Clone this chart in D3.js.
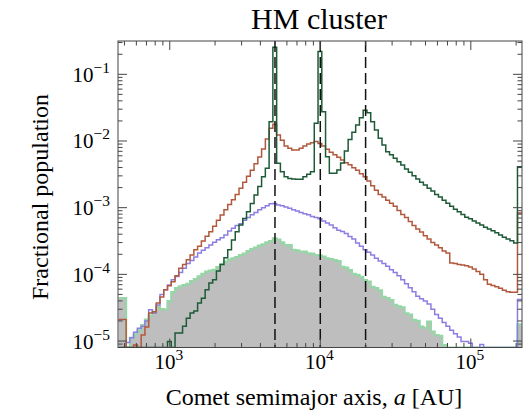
<!DOCTYPE html>
<html>
<head>
<meta charset="utf-8">
<script src="https://d3js.org/d3.v7.min.js"></script>
<style>
  body { margin: 0; background: #fff; }
  text { font-family: "Liberation Serif", "Times New Roman", serif; fill: #000; }
</style>
</head>
<body>
<svg width="532" height="413"></svg>
<script>
// log10(a) bins: 40 per decade, first bin starts at log10(a) = 2.66
var binStart = 2.66, binWidth = 0.025;

var darkGreen = [
  0,0,0,0,0,0,0,0,0,0,
  0,0,0,9.8e-6,0,1.32e-5,1.32e-5,1.66e-5,2.19e-5,2.63e-5,
  2.82e-5,3.72e-5,4.37e-5,5.89e-5,7.41e-5,8.32e-5,1.12e-4,1.41e-4,1.78e-4,2.34e-4,
  3.27e-4,4.37e-4,5.5e-4,6.9e-4,8.7e-4,1.16e-3,1.55e-3,2.07e-3,2.92e-3,3.89e-3,
  1.95e-2,0.254,4.62e-3,3.47e-3,2.92e-3,2.75e-3,2.69e-3,2.66e-3,2.66e-3,2.92e-3,
  3.16e-3,3.47e-3,1.84e-2,0.219,2.75e-2,5.82e-3,3.27e-3,3.27e-3,3.67e-3,4.68e-3,
  7.08e-3,1.05e-2,1.35e-2,1.74e-2,2.24e-2,2.88e-2,2.66e-2,1.95e-2,1.46e-2,1.10e-2,
  8.7e-3,6.9e-3,6.2e-3,5.5e-3,4.9e-3,4.37e-3,3.8e-3,3.39e-3,3.02e-3,2.69e-3,
  2.4e-3,2.19e-3,1.95e-3,1.78e-3,1.58e-3,1.45e-3,1.29e-3,1.17e-3,1.05e-3,9.5e-4,
  8.7e-4,7.9e-4,7.2e-4,6.8e-4,6.3e-4,5.9e-4,5.5e-4,5.1e-4,4.8e-4,4.5e-4,
  4.2e-4,3.9e-4,3.6e-4,3.4e-4,3.2e-4,2.95e-4,4.1e-3,4.1e-3
];
var red = [
  2.1e-5,2.1e-5,0,0,8.7e-6,0,1.23e-5,1.62e-5,2.63e-5,2.75e-5,
  3.72e-5,4.57e-5,5.89e-5,6.76e-5,7.76e-5,9.55e-5,1.23e-4,1.41e-4,1.66e-4,1.95e-4,
  2.34e-4,2.63e-4,3.16e-4,3.72e-4,4.37e-4,5.25e-4,6.46e-4,7.76e-4,9.33e-4,1.12e-3,
  1.32e-3,1.58e-3,1.95e-3,2.4e-3,2.95e-3,3.63e-3,4.57e-3,5.75e-3,7.59e-3,1.07e-2,
  1.55e-2,1.78e-2,1.23e-2,1.03e-2,8.4e-3,7.8e-3,7.3e-3,7.3e-3,7.8e-3,8.4e-3,
  9.0e-3,9.4e-3,9.8e-3,9.2e-3,8.4e-3,7.5e-3,6.8e-3,6.2e-3,5.7e-3,5.2e-3,
  4.7e-3,4.4e-3,3.98e-3,3.63e-3,3.24e-3,2.92e-3,2.51e-3,2.14e-3,1.82e-3,1.58e-3,
  1.45e-3,1.29e-3,1.17e-3,1.05e-3,9.1e-4,7.9e-4,7.1e-4,6.2e-4,5.4e-4,4.8e-4,
  4.3e-4,3.8e-4,3.4e-4,3.0e-4,2.75e-4,2.5e-4,2.24e-4,2.09e-4,1.48e-4,1.45e-4,
  1.41e-4,1.38e-4,1.35e-4,1.29e-4,1.2e-4,1.1e-4,1.0e-4,8.3e-5,7.1e-5,6.8e-5,
  6.5e-5,6.2e-5,5.8e-5,5.5e-5,5.4e-5,5.4e-5,8.3e-4,8.3e-4
];
var purple = [
  0,0,9.5e-6,1.12e-5,1.35e-5,1.55e-5,1.66e-5,2.0e-5,2.95e-5,2.63e-5,
  3.47e-5,5.0e-5,5.9e-5,6.9e-5,8.3e-5,9.3e-5,1.07e-4,1.23e-4,1.45e-4,1.62e-4,
  1.82e-4,2.09e-4,2.29e-4,2.51e-4,2.75e-4,3.02e-4,3.31e-4,3.55e-4,3.89e-4,4.47e-4,
  4.9e-4,5.4e-4,5.75e-4,6.5e-4,7.1e-4,7.8e-4,8.5e-4,9.3e-4,1.0e-3,1.07e-3,
  1.15e-3,1.16e-3,1.10e-3,1.07e-3,1.02e-3,9.8e-4,9.3e-4,8.9e-4,8.5e-4,8.1e-4,
  7.8e-4,7.4e-4,7.1e-4,6.8e-4,6.3e-4,5.9e-4,5.5e-4,5.0e-4,4.6e-4,4.4e-4,
  4.1e-4,3.7e-4,3.4e-4,2.95e-4,2.63e-4,2.34e-4,2.14e-4,1.95e-4,1.74e-4,1.58e-4,
  1.45e-4,1.32e-4,1.17e-4,1.07e-4,9.5e-5,8.3e-5,7.2e-5,6.3e-5,5.5e-5,4.7e-5,
  4.3e-5,4.0e-5,3.6e-5,3.0e-5,2.5e-5,2.2e-5,1.9e-5,1.66e-5,1.45e-5,1.29e-5,
  1.15e-5,9.8e-6,9.8e-6,9.3e-6,0,0,8.9e-6,0,0,0,
  0,0,0,0,0,0,4.2e-5,4.2e-5
];
var lightGreen = [
  4.4e-5,4.4e-5,0,1.12e-5,1.26e-5,1.45e-5,1.74e-5,2.09e-5,2.4e-5,2.75e-5,
  3.31e-5,3.0e-5,2.95e-5,3.98e-5,5.4e-5,6.2e-5,6.6e-5,6.9e-5,7.2e-5,7.9e-5,
  8.5e-5,9.3e-5,1.02e-4,1.10e-4,1.14e-4,1.17e-4,1.29e-4,1.41e-4,1.55e-4,1.66e-4,
  1.74e-4,1.82e-4,1.95e-4,2.04e-4,2.24e-4,2.4e-4,2.51e-4,2.69e-4,2.82e-4,3.02e-4,
  3.16e-4,3.47e-4,3.31e-4,3.02e-4,2.75e-4,2.75e-4,2.34e-4,2.29e-4,2.19e-4,2.19e-4,
  2.07e-4,2.04e-4,1.95e-4,1.91e-4,1.84e-4,1.74e-4,1.70e-4,1.64e-4,1.58e-4,1.30e-4,
  1.26e-4,1.16e-4,1.02e-4,9.8e-5,9.2e-5,8.2e-5,7.8e-5,6.5e-5,6.2e-5,5.75e-5,
  4.6e-5,4.4e-5,4.1e-5,3.5e-5,3.3e-5,3.2e-5,2.6e-5,2.5e-5,2.07e-5,2.0e-5,
  1.64e-5,1.58e-5,1.95e-5,1.38e-5,1.23e-5,1.20e-5,8.7e-6,0,0,0,
  0,0,0,0,0,0,0,0,0,0,
  0,0,0,0,0,0,1.78e-5,1.78e-5
];

var xTicks = [1e3, 1e4, 1e5], xTickExp = ["3", "4", "5"];
var yTicks = [1e-5, 1e-4, 1e-3, 1e-2, 1e-1], yTickExp = ["\u22125", "\u22124", "\u22123", "\u22122", "\u22121"];
var markedA = [5000, 10000, 20000];

var svg = d3.select("svg");
var plotL = 118, plotR = 522, plotT = 41, plotB = 347.5;

var x = d3.scaleLog().domain([453, 218800]).range([plotL, plotR]);
var y = d3.scaleLog().domain([8e-6, 0.316]).range([plotB, plotT]);
var yMin = y.domain()[0];

svg.append("clipPath").attr("id", "plot")
  .append("rect").attr("x", plotL).attr("y", plotT)
  .attr("width", plotR - plotL).attr("height", plotB - plotT);

function steps(vals) {
  var pts = vals.map(function (v, k) { return [Math.pow(10, binStart + binWidth * k), v]; });
  pts.push([Math.pow(10, binStart + binWidth * vals.length), vals[vals.length - 1]]);
  return pts;
}
var yv = function (d) { return y(Math.max(d[1], yMin)); };
var line = d3.line().x(function (d) { return x(d[0]); }).y(yv).curve(d3.curveStepAfter);
var area = d3.area().x(function (d) { return x(d[0]); }).y0(plotB).y1(yv).curve(d3.curveStepAfter);

var g = svg.append("g").attr("clip-path", "url(#plot)");

g.append("path").attr("d", area(steps(lightGreen))).attr("fill", "#bebebe");
g.append("path").attr("d", line(steps(lightGreen))).attr("fill", "none")
  .attr("stroke", "#96d6a6").attr("stroke-width", 2.2);
g.append("path").attr("d", line(steps(purple))).attr("fill", "none")
  .attr("stroke", "#8a7ee2").attr("stroke-width", 1.5);
g.append("path").attr("d", line(steps(red))).attr("fill", "none")
  .attr("stroke", "#b2583c").attr("stroke-width", 1.5);
g.append("path").attr("d", line(steps(darkGreen))).attr("fill", "none")
  .attr("stroke", "#1d5a36").attr("stroke-width", 1.5);

g.selectAll("line.mark").data(markedA).enter().append("line")
  .attr("x1", function (d) { return x(d); }).attr("x2", function (d) { return x(d); })
  .attr("y1", plotT).attr("y2", plotB)
  .attr("stroke", "#111").attr("stroke-width", 1.5).attr("stroke-dasharray", "11,5");

// frame and ticks (inward, all four sides)
var axisColor = "#444";
svg.append("rect").attr("x", plotL).attr("y", plotT)
  .attr("width", plotR - plotL).attr("height", plotB - plotT)
  .attr("fill", "none").attr("stroke", axisColor).attr("stroke-width", 1);

var xt = [];
for (var d = 2; d <= 5; d++) for (var m = 1; m <= 9; m++) {
  var v = m * Math.pow(10, d);
  if (v >= x.domain()[0] && v <= x.domain()[1]) xt.push({ v: v, major: m === 1 });
}
var yt = [];
for (var e = -6; e <= -1; e++) for (var n = 1; n <= 9; n++) {
  var w = n * Math.pow(10, e);
  if (w >= y.domain()[0] && w <= y.domain()[1]) yt.push({ v: w, major: n === 1 });
}
var ticks = svg.append("g").attr("stroke", axisColor).attr("stroke-width", 1);
xt.forEach(function (t) {
  var len = t.major ? 9 : 4.5, px = x(t.v);
  ticks.append("line").attr("x1", px).attr("x2", px).attr("y1", plotB).attr("y2", plotB - len);
  ticks.append("line").attr("x1", px).attr("x2", px).attr("y1", plotT).attr("y2", plotT + len);
});
yt.forEach(function (t) {
  var len = t.major ? 9 : 4.5, py = y(t.v);
  ticks.append("line").attr("x1", plotL).attr("x2", plotL + len).attr("y1", py).attr("y2", py);
  ticks.append("line").attr("x1", plotR).attr("x2", plotR - len).attr("y1", py).attr("y2", py);
});

// tick labels
xTicks.forEach(function (v, i) {
  var t = svg.append("text").attr("x", x(v) - 1).attr("y", 369)
    .attr("text-anchor", "middle").style("font-size", "21px");
  t.append("tspan").text("10");
  t.append("tspan").attr("dy", -9).style("font-size", "15.5px").text(xTickExp[i]);
});
yTicks.forEach(function (v, i) {
  var t = svg.append("text").attr("x", 110).attr("y", y(v) + 7.5)
    .attr("text-anchor", "end").style("font-size", "21px");
  t.append("tspan").text("10");
  t.append("tspan").attr("dy", -9).style("font-size", "15.5px").text(yTickExp[i]);
});

// titles
svg.append("text").attr("x", 319).attr("y", 28.5).attr("text-anchor", "middle")
  .style("font-size", "30px").text("HM cluster");

var xl = svg.append("text").attr("x", 314).attr("y", 405).attr("text-anchor", "middle")
  .style("font-size", "24px");
xl.append("tspan").text("Comet semimajor axis, ");
xl.append("tspan").style("font-style", "italic").text("a");
xl.append("tspan").text(" [AU]");

svg.append("text").attr("transform", "translate(48,197) rotate(-90)")
  .attr("text-anchor", "middle").style("font-size", "24px").text("Fractional population");
</script>
</body>
</html>
